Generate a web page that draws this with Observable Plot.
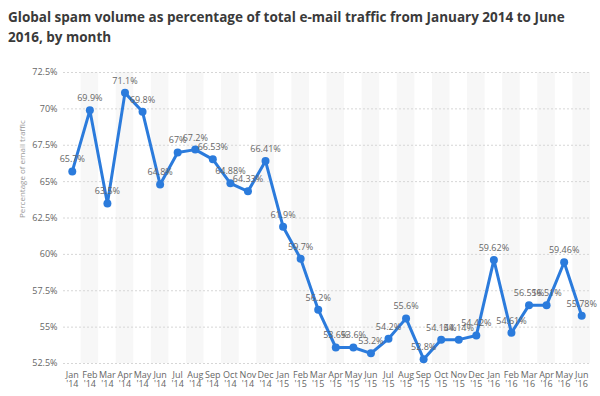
<!DOCTYPE html>
<html>
<head>
<meta charset="utf-8">
<script src="https://cdn.jsdelivr.net/npm/d3@7"></script>
<script src="https://cdn.jsdelivr.net/npm/@observablehq/plot@0.6"></script>
<style>
  html, body { margin: 0; padding: 0; background: #fff; }
  #title { font-family: "Open Sans", sans-serif; font-weight: bold; font-size: 13.5px; color: #3a3a3a; line-height: 20px; padding: 7px 0 0 8px; height: 50px; box-sizing: border-box; width: 600px; }
  #chart { width: 600px; height: 346px; }
</style>
</head>
<body>
<div id="title">Global spam volume as percentage of total e-mail traffic from January 2014 to June 2016, by month</div>
<div id="chart"></div>
<script>
const monthNames = ["Jan","Feb","Mar","Apr","May","Jun","Jul","Aug","Sep","Oct","Nov","Dec",
                    "Jan","Feb","Mar","Apr","May","Jun","Jul","Aug","Sep","Oct","Nov","Dec",
                    "Jan","Feb","Mar","Apr","May","Jun"];
const yearLabels = ["'14","'14","'14","'14","'14","'14","'14","'14","'14","'14","'14","'14",
                    "'15","'15","'15","'15","'15","'15","'15","'15","'15","'15","'15","'15",
                    "'16","'16","'16","'16","'16","'16"];
const spamShare = [65.7, 69.9, 63.5, 71.1, 69.8, 64.8, 67, 67.2, 66.53, 64.88, 64.33, 66.41,
                   61.9, 59.7, 56.2, 53.6, 53.6, 53.2, 54.2, 55.6, 52.8, 54.14, 54.14, 54.42,
                   59.62, 54.61, 56.51, 56.51, 59.46, 55.78];
const yTicks = [52.5, 55, 57.5, 60, 62.5, 65, 67.5, 70, 72.5];
const yLabel = "Percentage of email traffic";

const data = monthNames.map((m, i) => ({key: m + " " + yearLabels[i], m, yr: yearLabels[i], v: spamShare[i], i}));
const keys = data.map(d => d.key);
const blue = "#2b7bdc";
const font = "'Open Sans', sans-serif";

const chart = Plot.plot({
  width: 600,
  height: 346,
  marginTop: 22,
  marginBottom: 33,
  marginLeft: 63,
  marginRight: 10,
  style: {fontFamily: font, fontSize: "9px", color: "#666", background: "#fff"},
  x: {type: "band", domain: keys, padding: 0, round: false, axis: null},
  y: {domain: [52.5, 72.5], ticks: yTicks, tickFormat: d => d + "%", tickSize: 0, tickPadding: 6, label: null},
  marks: [
    Plot.barY(data.filter(d => d.i % 2 === 1), {x: "key", y1: 52.5, y2: 72.5, fill: "#f7f7f7"}),
    Plot.ruleY(yTicks, {stroke: "#d6d6d6", strokeDasharray: "2,2"}),
    Plot.line(data, {x: "key", y: "v", stroke: blue, strokeWidth: 3, strokeLinejoin: "round"}),
    Plot.dot(data, {x: "key", y: "v", r: 4, fill: blue}),
    Plot.text(data, {x: "key", y: "v", text: d => d.v + "%", dy: -12, fill: "#666", fontSize: 9}),
    Plot.text(data, {x: "key", y: 52.5, text: "m", dy: 12, fill: "#666", fontSize: 9}),
    Plot.text(data, {x: "key", y: 52.5, text: "yr", dy: 21, fill: "#666", fontSize: 9}),
    Plot.text([yLabel], {text: d => d, frameAnchor: "left", rotate: -90, dx: -41, fill: "#999", fontSize: 8})
  ]
});
document.getElementById("chart").appendChild(chart);
</script>
</body>
</html>
